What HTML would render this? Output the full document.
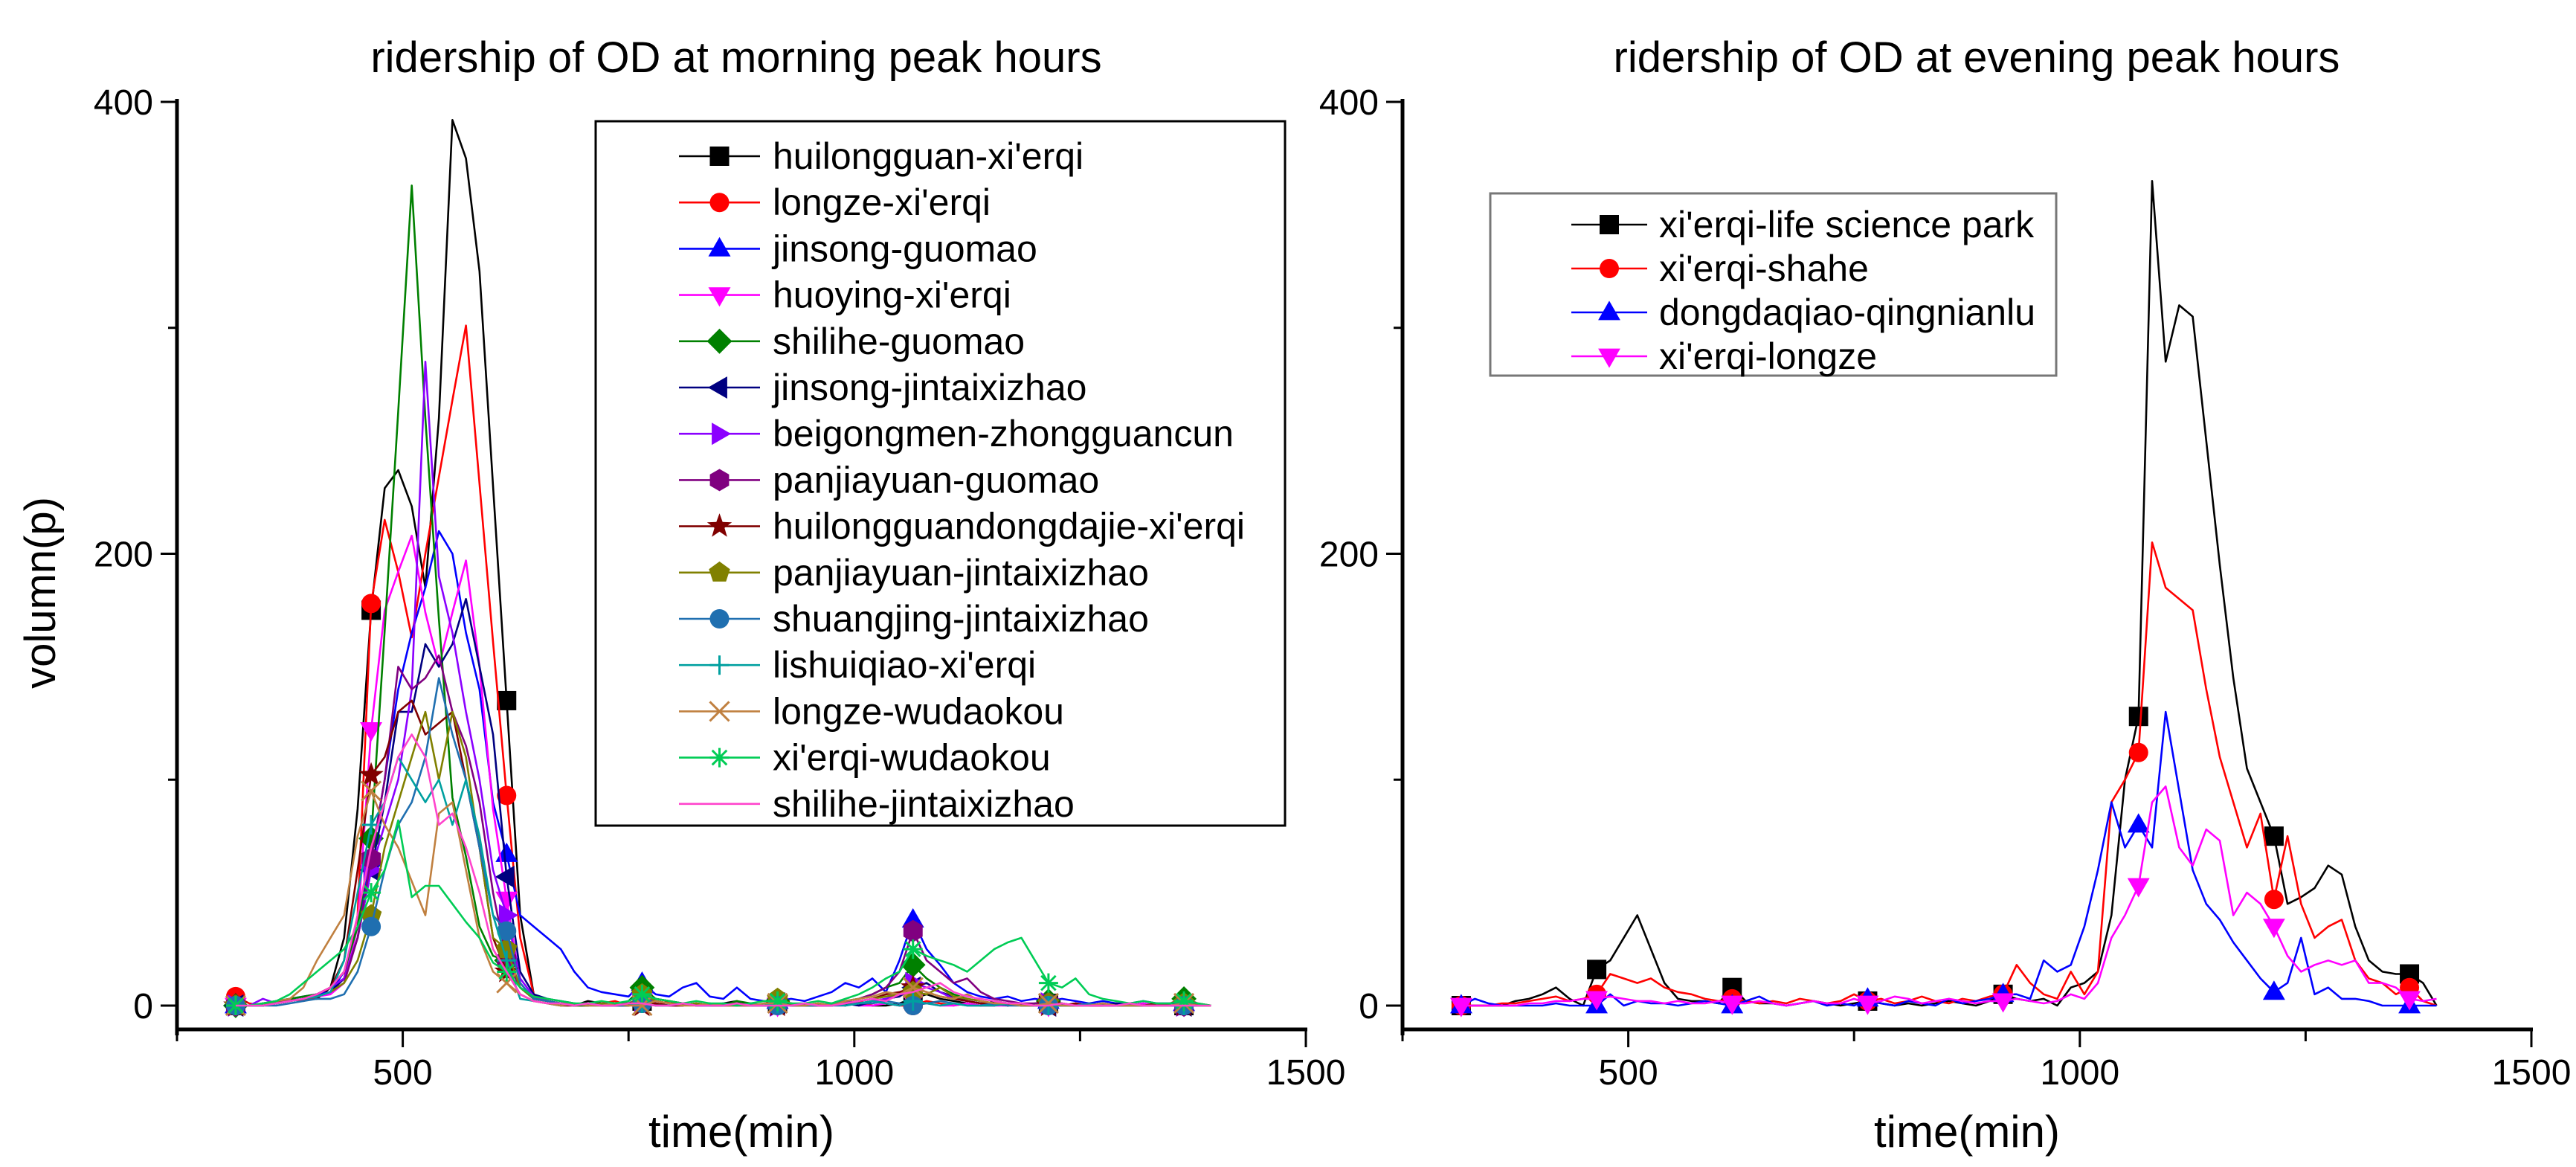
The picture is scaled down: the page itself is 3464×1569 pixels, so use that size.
<!DOCTYPE html>
<html><head><meta charset="utf-8"><title>ridership of OD</title>
<style>
html,body{margin:0;padding:0;background:#fff;}
svg{display:block;font-family:"Liberation Sans",Arial,sans-serif;}
</style></head>
<body>
<svg id="chart" width="3464" height="1569" viewBox="0 0 3464 1569" xmlns="http://www.w3.org/2000/svg">
<rect x="0" y="0" width="3464" height="1569" fill="#fff"/>
<g id="axes"></g>
<g id="series"></g>
<g id="legends"></g>
</svg>
<script>
// time grid (min)
const times = [];
for (let t = 315; t <= 1395; t += 15) times.push(t);

const morningNames = ["huilongguan-xi'erqi","longze-xi'erqi","jinsong-guomao","huoying-xi'erqi","shilihe-guomao","jinsong-jintaixizhao","beigongmen-zhongguancun","panjiayuan-guomao","huilongguandongdajie-xi'erqi","panjiayuan-jintaixizhao","shuangjing-jintaixizhao","lishuiqiao-xi'erqi","longze-wudaokou","xi'erqi-wudaokou","shilihe-jintaixizhao"];
const mHuilongguan = [0,0,0,1,2,3,3,8,30,87, 175,229,237,221,185,260,392,375,325,230, 135,40,5,2,1,0,2,1,0,0, 2,3,2,1,0,0,1,2,0,0, 1,0,1,0,0,2,1,0,0,1, 3,5,3,2,1,0,2,1,0,0, 1,0,0,0,1,0,0,1,0,0, 0,0,0];
const mLongze = [4,1,0,1,3,2,4,6,12,40, 178,215,192,163,200,234,268,301,231,161, 93,30,5,2,1,0,0,1,2,0, 1,0,2,0,1,0,0,1,0,0, 0,1,0,0,1,0,2,0,1,0, 0,2,1,0,1,0,0,1,0,0, 1,0,0,0,0,1,0,0,0,0, 0,1,0];
const mJinsongGuomao = [0,0,1,2,3,4,5,6,15,35, 65,100,140,165,185,210,200,165,140,90, 67,40,35,30,25,15,8,6,5,4, 10,5,4,8,10,4,3,8,3,2, 2,3,2,4,6,10,8,12,6,20, 38,25,18,10,6,4,3,4,2,3, 2,3,2,1,2,1,1,2,1,1, 1,0,0];
const mHuoying = [0,0,0,1,2,3,4,5,10,35, 122,175,192,208,174,150,174,197,150,87, 47,10,3,2,1,0,1,0,1,0, 2,1,0,1,0,0,1,0,0,0, 0,1,0,0,0,1,0,0,1,0, 2,1,0,0,1,0,0,0,1,0, 0,0,1,0,0,0,0,1,0,0, 0,0,0];
const mShiliheGuomao = [0,0,1,2,3,4,5,8,15,35, 74,166,263,363,260,171,92,66,35,22, 20,8,3,2,1,0,0,1,0,2, 8,3,2,1,0,1,0,2,1,0, 2,1,0,1,0,2,3,5,8,10, 18,12,8,5,3,2,1,1,0,1, 2,1,0,0,1,0,1,0,0,1, 3,1,0];
const mJinsongJintai = [0,0,0,1,2,3,4,6,12,30, 60,90,130,130,160,150,160,180,150,120, 57,15,5,3,2,1,0,1,0,1, 3,2,1,0,1,0,0,1,0,0, 1,0,0,1,0,1,0,2,3,4, 8,10,6,4,2,1,1,0,1,0, 0,1,0,0,0,1,0,0,0,0, 0,0,0];
const mBeigongmen = [0,0,3,1,2,3,5,8,12,30, 60,80,100,140,285,190,165,130,100,60, 40,12,4,2,1,1,0,1,0,0, 2,1,0,1,0,0,1,0,0,0, 0,1,0,0,1,2,1,2,3,5, 10,8,6,3,2,1,0,1,0,0, 1,0,0,0,1,0,0,0,0,0, 0,0,0];
const mPanjiaGuomao = [0,0,0,1,2,3,4,6,10,30, 65,100,150,140,145,155,130,115,90,50, 20,8,3,2,1,0,1,0,0,1, 2,1,0,0,1,0,0,1,0,0, 1,0,0,1,0,2,3,5,8,15, 33,20,15,10,12,6,3,2,1,1, 1,0,1,0,0,0,1,0,0,0, 0,0,0];
const mDongdajie = [0,0,0,1,2,3,5,8,20,60, 102,110,130,135,120,125,130,100,70,30, 15,5,2,1,0,0,1,0,0,1, 0,1,0,0,1,0,0,0,1,0, 0,1,0,0,0,1,2,3,5,6, 8,6,4,3,2,1,1,0,1,0, 0,0,1,0,0,0,0,0,1,0, 0,0,0];
const mPanjiaJintai = [0,0,1,1,2,3,4,6,10,20, 40,70,90,110,130,100,130,110,70,30, 25,8,3,2,1,1,0,1,0,0, 5,2,1,0,1,0,0,1,0,0, 3,1,0,1,0,1,2,3,4,5, 6,5,8,4,3,2,1,1,0,0, 1,0,0,0,1,0,0,0,0,0, 1,0,0];
const mShuangjing = [0,0,0,0,1,2,3,3,5,15, 35,60,80,90,110,145,120,100,70,40, 33,10,3,2,1,0,1,0,0,0, 1,0,0,1,0,0,0,0,1,0, 0,0,1,0,0,0,1,1,2,1, 0,1,2,1,0,0,1,0,0,0, 0,0,0,1,0,0,0,0,0,0, 0,0,0];
const mLishuiqiao = [0,0,0,1,2,3,4,6,20,50, 80,90,110,100,90,100,80,100,75,40, 20,3,2,1,0,1,0,0,1,0, 1,0,0,1,0,0,1,0,0,0, 1,0,0,0,1,0,1,2,1,0, 2,1,0,1,0,0,0,1,0,0, 0,0,0,0,1,0,0,0,0,0, 0,0,0];
const mLongzeWudaokou = [0,0,1,2,3,8,20,30,40,75, 95,80,70,55,40,85,90,60,30,15, 10,5,2,1,0,1,0,0,1,0, 0,2,1,0,0,1,0,0,0,1, 1,0,0,1,0,2,3,4,6,5, 8,6,4,3,5,2,1,1,0,0, 1,0,0,0,1,0,0,0,0,0, 1,0,0];
const mXierqiWudaokou = [0,0,1,2,5,10,15,20,25,35, 50,60,82,48,53,53,45,37,30,19, 15,8,4,3,2,1,1,2,1,2, 5,3,2,1,2,1,1,0,1,2, 2,1,1,2,1,3,5,8,12,15, 25,22,20,18,15,20,25,28,30,20, 10,8,12,5,3,2,1,2,1,1, 2,1,0];
const mShiliheJintai = [0,0,0,1,2,3,5,8,15,40, 70,90,110,120,110,80,85,70,50,25, 15,5,2,1,1,0,1,0,0,1, 1,0,0,1,0,0,0,1,0,0, 0,0,1,0,0,1,2,3,2,5, 6,8,10,6,4,3,2,1,1,0, 0,1,0,0,0,0,1,0,0,0, 0,0,0];

const eveningNames = ["xi'erqi-life science park","xi'erqi-shahe","dongdaqiao-qingnianlu","xi'erqi-longze"];
const eLifeScience = [0,0,0,0,2,3,5,8,3,0, 16,20,30,40,25,10,3,2,2,1, 8,2,1,1,0,1,2,1,0,1, 2,1,0,1,0,1,2,1,0,2, 5,3,2,3,0,8,10,15,40,100, 128,365,285,310,305,250,195,145,105,90, 75,45,48,52,62,58,35,20,15,14, 14,10,0];
const eShahe = [0,0,0,1,1,2,3,4,2,3, 5,14,12,10,12,8,6,5,3,2, 3,2,1,2,1,3,2,1,2,5, 2,3,1,2,4,2,1,3,2,4, 5,18,10,5,3,15,5,15,90,100, 112,205,185,180,175,140,110,90,70,85, 47,75,45,30,35,38,20,12,10,5, 8,2,0];
const eDongdaqiao = [0,3,1,0,0,0,0,1,0,0, 0,5,0,2,1,1,0,1,2,1, 0,2,4,1,0,1,2,0,1,0, 3,1,0,2,1,0,3,1,2,3, 5,5,3,20,15,18,35,60,90,70, 80,70,130,95,60,45,38,28,20,12, 6,10,30,5,8,3,3,2,0,0, 0,0,0];
const eLongze = [0,0,0,0,0,1,1,2,2,3, 3,4,3,2,2,1,2,1,1,2, 1,1,2,1,0,1,2,1,1,3, 1,2,4,3,1,2,3,2,1,2, 2,3,2,1,2,5,3,10,30,40, 53,90,97,70,62,78,73,40,50,45, 35,22,15,18,20,18,20,10,10,8, 3,2,3];

const xTicks = [500, 1000, 1500];
const xMinorTicks = [250, 750, 1250];
const yTicks = [0, 200, 400];
const yMinorTicks = [100, 300];

const morningSeries = [mHuilongguan,mLongze,mJinsongGuomao,mHuoying,mShiliheGuomao,mJinsongJintai,mBeigongmen,mPanjiaGuomao,mDongdajie,mPanjiaJintai,mShuangjing,mLishuiqiao,mLongzeWudaokou,mXierqiWudaokou,mShiliheJintai];
const morningColors = ["#000000","#ff0000","#0000ff","#ff00ff","#008000","#000080","#8b00ff","#800080","#800000","#808000","#1f6fb0","#00a0a0","#c08040","#00cc55","#ff44cc"];
const morningMarkers = ["square","circle","up","down","diamond","left","right","hexagon","star","pentagon","circle","plus","cross","asterisk","none"];
const eveningSeries = [eLifeScience,eShahe,eDongdaqiao,eLongze];
const eveningColors = ["#000000","#ff0000","#0000ff","#ff00ff"];
const eveningMarkers = ["square","circle","up","down"];

const NS = "http://www.w3.org/2000/svg";
function el(tag, attrs, parent, text) {
  const e = document.createElementNS(NS, tag);
  for (const k in attrs) e.setAttribute(k, attrs[k]);
  if (text !== undefined) e.textContent = text;
  parent.appendChild(e);
  return e;
}
const Y0 = 1352, YS = (1352 - 137) / 400, XS = 1.2144;
function yScale(v) { return Y0 - v * YS; }
function makeX(x0) { return v => x0 + (v - 250) * XS; }
const xLeft = makeX(238), xRight = makeX(1886);

function marker(type, cx, cy, color, parent, r) {
  r = r || 13;
  let m;
  const poly = pts => pts.map(p => (cx + p[0]).toFixed(1) + "," + (cy + p[1]).toFixed(1)).join(" ");
  if (type === "square") m = el("rect", {x: cx - r, y: cy - r, width: 2 * r, height: 2 * r, fill: color}, parent);
  else if (type === "circle") m = el("circle", {cx: cx, cy: cy, r: r, fill: color}, parent);
  else if (type === "up") m = el("polygon", {points: poly([[0,-r*1.2],[r*1.15,r*0.8],[-r*1.15,r*0.8]]), fill: color}, parent);
  else if (type === "down") m = el("polygon", {points: poly([[0,r*1.2],[r*1.15,-r*0.8],[-r*1.15,-r*0.8]]), fill: color}, parent);
  else if (type === "left") m = el("polygon", {points: poly([[-r*1.2,0],[r*0.8,-r*1.15],[r*0.8,r*1.15]]), fill: color}, parent);
  else if (type === "right") m = el("polygon", {points: poly([[r*1.2,0],[-r*0.8,-r*1.15],[-r*0.8,r*1.15]]), fill: color}, parent);
  else if (type === "diamond") m = el("polygon", {points: poly([[0,-r*1.3],[r*1.3,0],[0,r*1.3],[-r*1.3,0]]), fill: color}, parent);
  else if (type === "hexagon" || type === "pentagon") {
    const n = type === "hexagon" ? 6 : 5, pts = [];
    for (let i = 0; i < n; i++) { const a = -Math.PI / 2 + i * 2 * Math.PI / n; pts.push([Math.cos(a) * r * 1.15, Math.sin(a) * r * 1.15]); }
    m = el("polygon", {points: poly(pts), fill: color}, parent);
  } else if (type === "star") {
    const pts = [];
    for (let i = 0; i < 10; i++) { const a = -Math.PI / 2 + i * Math.PI / 5, rr = i % 2 ? r * 0.55 : r * 1.35; pts.push([Math.cos(a) * rr, Math.sin(a) * rr]); }
    m = el("polygon", {points: poly(pts), fill: color}, parent);
  } else if (type === "plus") m = el("path", {d: `M${cx-r},${cy}H${cx+r}M${cx},${cy-r}V${cy+r}`, stroke: color, "stroke-width": 3, fill: "none"}, parent);
  else if (type === "cross") m = el("path", {d: `M${cx-r},${cy-r}L${cx+r},${cy+r}M${cx-r},${cy+r}L${cx+r},${cy-r}`, stroke: color, "stroke-width": 3, fill: "none"}, parent);
  else if (type === "asterisk") m = el("path", {d: `M${cx-r},${cy}H${cx+r}M${cx},${cy-r}V${cy+r}M${cx-r*0.75},${cy-r*0.75}L${cx+r*0.75},${cy+r*0.75}M${cx-r*0.75},${cy+r*0.75}L${cx+r*0.75},${cy-r*0.75}`, stroke: color, "stroke-width": 3, fill: "none"}, parent);
  return m;
}

const axesG = document.getElementById("axes");
const seriesG = document.getElementById("series");
const legG = document.getElementById("legends");

function drawAxes(prefix, xf, axisLeft, title, titleX) {
  const g = el("g", {}, axesG);
  
  
  const xEnd = xf(1500);
  const ya = el("line", {x1: axisLeft, y1: 133, x2: axisLeft, y2: 1392, stroke: "#000", "stroke-width": 5}, g);
  
  
  const xa = el("line", {x1: axisLeft - 2, y1: 1384, x2: xEnd + 2, y2: 1384, stroke: "#000", "stroke-width": 5}, g);
  
  
  for (const t of yTicks) {
    const yy = yScale(t);
    el("line", {x1: axisLeft - 22, y1: yy, x2: axisLeft, y2: yy, stroke: "#000", "stroke-width": 3}, g);
    const lbl = el("text", {x: axisLeft - 32, y: yy + 17, "font-size": 48, "text-anchor": "end", fill: "#000"}, g, String(t));
    
    
  }
  for (const t of yMinorTicks) {
    const yy = yScale(t);
    el("line", {x1: axisLeft - 12, y1: yy, x2: axisLeft, y2: yy, stroke: "#000", "stroke-width": 3}, g);
  }
  for (const t of xTicks) {
    const xx = xf(t);
    el("line", {x1: xx, y1: 1384, x2: xx, y2: 1408, stroke: "#000", "stroke-width": 3}, g);
    const lbl = el("text", {x: xx, y: 1458, "font-size": 48, "text-anchor": "middle", fill: "#000"}, g, String(t));
    
    
  }
  for (const t of xMinorTicks) {
    const xx = xf(t);
    el("line", {x1: xx, y1: 1384, x2: xx, y2: 1400, stroke: "#000", "stroke-width": 3}, g);
  }
  const xt = el("text", {x: (axisLeft + xEnd) / 2, y: 1542, "font-size": 60, "text-anchor": "middle", fill: "#000"}, g, "time(min)");
  
  
  const tt = el("text", {x: titleX, y: 97, "font-size": 58, "text-anchor": "middle", fill: "#000"}, g, title);
  
  
}
drawAxes("morning", xLeft, 238, "ridership of OD at morning peak hours", 990);
drawAxes("evening", xRight, 1886, "ridership of OD at evening peak hours", 2658);
const yt = el("text", {x: 0, y: 0, "font-size": 58, "text-anchor": "middle", fill: "#000", transform: "translate(74,797) rotate(-90)"}, axesG, "volumn(p)");



function drawSeries(prefix, xf, data, colors, markers, names) {
  data.forEach((vals, si) => {
    const g = el("g", {}, seriesG);
    
    
    const d = vals.map((v, i) => (i ? "L" : "M") + xf(times[i]).toFixed(1) + "," + yScale(v).toFixed(1)).join("");
    el("path", {d: d, fill: "none", stroke: colors[si], "stroke-width": 2.6, "stroke-linejoin": "round"}, g);
    vals.forEach((v, i) => {
      if (i % 10 === 0 && markers[si] !== "none") {
        const m = marker(markers[si], xf(times[i]), yScale(v), colors[si], g);
        
        
      }
    });
  });
}
drawSeries("morning", xLeft, morningSeries, morningColors, morningMarkers, morningNames);
drawSeries("evening", xRight, eveningSeries, eveningColors, eveningMarkers, eveningNames);

function drawLegend(prefix, box, lineX1, lineX2, textX, y0, dy, names, colors, markers, border) {
  const g = el("g", {}, legG);
  
  
  el("rect", {x: box[0], y: box[1], width: box[2], height: box[3], fill: "#fff", stroke: border, "stroke-width": 3}, g);
  names.forEach((n, i) => {
    const yy = y0 + i * dy;
    const e = el("g", {}, g);
    
    
    el("line", {x1: lineX1, y1: yy, x2: lineX2, y2: yy, stroke: colors[i], "stroke-width": 2.6}, e);
    if (markers[i] !== "none") marker(markers[i], (lineX1 + lineX2) / 2, yy, colors[i], e);
    el("text", {x: textX, y: yy + 17, "font-size": 50, fill: "#000"}, e, n);
  });
}
drawLegend("morning", [801, 163, 927, 947], 913, 1022, 1039, 210, 62.2, morningNames, morningColors, morningMarkers, "#000");
drawLegend("evening", [2004, 260, 761, 245], 2113, 2215, 2231, 302, 59, eveningNames, eveningColors, eveningMarkers, "#777");
</script>
</body></html>
